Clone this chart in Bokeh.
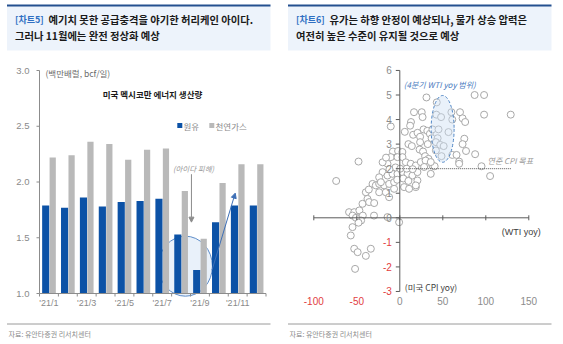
from bokeh.plotting import figure
from bokeh.models import Range1d, Arrow, NormalHead
from bokeh.layouts import row
from bokeh.embed import file_html
from bokeh.resources import INLINE
from bokeh.core.properties import value

# ---------------- data: chart 5 (US Gulf of Mexico energy production) ----------------
months = ["'21/1", "'21/2", "'21/3", "'21/4", "'21/5", "'21/6",
          "'21/7", "'21/8", "'21/9", "'21/10", "'21/11", "'21/12"]
crude_oil = [1.79, 1.77, 1.86, 1.78, 1.82, 1.83, 1.85, 1.53, 1.21, 1.64, 1.79, 1.79]
natural_gas = [2.22, 2.24, 2.36, 2.34, 2.20, 2.29, 2.30, 1.92, 1.49, 1.99, 2.16, 2.16]
left_yticks = [1.0, 1.5, 2.0, 2.5, 3.0]
left_label_months = [1, 3, 5, 7, 9, 11]

# ---------------- data: chart 6 (WTI yoy vs US CPI yoy) ----------------
wti_yoy = [31, 87, 98, 43, 16.5, 25.5, 26.5, 42.5, 48, 60, 70, 61, 73, 76, 98, 129,
           -10.5, 13, 12, 5.8, 15.5, 20.6, 27.6, 32, 35, 38, 45, 56.6, 23.6, 37, 44, 75,
           10, 14, 23.6, 32.5, 42, 47, 51, 73, 23, 27, 42, 77, -8, -2, 3, 61, 66, 87.6,
           48.5, 29.4, 33.4, 69, 69, 38, 40.5, 95, 105, -48, -74,
           -14.3, -10.5, -2.7, 3.1, 7, 12.8, 18.6, 24.4, 30, 36, 28.3, 36,
           -20, -14.3, -8.5, -2.7, 3.1, -24, 9, 14.7, 20.5,
           -5, 0.5, 8, -12, 15,
           -31.7, -27.9, -24, -18.2, -12.4, -6.6,
           5, 10.8, 18.6, 20.5, 18.6,
           -24, -16.3, -12.4, -39.5, -37.6, -43.4, -35.7, -29.8, -36,
           -59, -53, -47, -55, -49, -43, -45, -30, -14.3, -0.8, -55, -57, -51, -48,
           -53, -49, -39.5, -33.7, -52,
           -22, -6.6, -20, -16, -3, 4, 10]
cpi_yoy = [4.9, 5.0, 5.0, 4.7, 4.3, 4.3, 4.1, 4.2, 4.1, 4.3, 4.3, 4.0, 4.05, 3.9, 4.2, 4.2,
           3.72, 3.9, 3.75, 3.5, 3.38, 3.46, 3.6, 3.54, 3.42, 3.6, 3.6, 3.49, 3.3, 3.24, 3.24, 3.22,
           3.0, 2.92, 3.08, 3.0, 3.08, 2.97, 2.92, 3.0, 2.78, 2.7, 2.74, 2.72, 2.7, 2.72, 2.68, 2.56, 2.56, 2.59,
           2.51, 2.51, 2.4, 2.29, 2.2, 2.13, 2.1, 2.1, 1.7, 2.29, 1.5,
           2.2, 2.47, 2.47, 2.47, 2.26, 2.2, 2.13, 2.27, 2.33, 2.27, 2.07, 1.79,
           1.86, 1.72, 1.79, 1.79, 1.86, 1.65, 1.79, 1.72, 1.86,
           2.05, 2.0, 2.0, 1.98, 1.98,
           1.38, 1.32, 1.38, 1.32, 1.38, 1.45,
           1.25, 1.18, 1.25, 1.52, 1.32,
           1.04, 1.04, 0.84, 1.04, 0.77, 0.57, 0.64, 0.6, 1.15,
           0.23, 0.23, 0.3, 0.09, 0.02, 0.09, -0.11, 0.09, 0.03, -0.18, -0.38, -0.72, 0.0, -0.2,
           -1.26, -1.4, -1.55, -1.26, -2.08,
           1.45, 1.18, 2.26, 2.45, 1.55, 1.6, 1.5]
right_xticks = [-100, -50, 0, 50, 100, 150]
right_yticks = [-3, -2, -1, 0, 1, 2, 3, 4, 5, 6]
fed_cpi_target = 2.0
fed_line_end = 130
q4_wti_center, q4_wti_width = 49.8, 26.7
q4_cpi_center, q4_cpi_height = 3.62, 2.72

assert len(wti_yoy) == len(cpi_yoy)

KR = value("Noto Sans CJK KR")
LAT = value("Liberation Sans")
H = 344


def make_fig(w, x0_px, x0_val, xppu, y0_px, y0_val, yppu):
    xr = Range1d(x0_val - x0_px / xppu, x0_val + (w - x0_px) / xppu)
    yr = Range1d(y0_val - (H - y0_px) / yppu, y0_val + y0_px / yppu)
    p = figure(width=w, height=H, x_range=xr, y_range=yr, output_backend="svg",
               toolbar_location=None, min_border=0, x_axis_location=None,
               y_axis_location=None, outline_line_color=None,
               background_fill_color="white", border_fill_color="white")
    p.grid.grid_line_color = None
    p.extra_x_ranges = {"px": Range1d(0, w)}
    p.extra_y_ranges = {"px": Range1d(H, 0)}
    return p


def pxtext(p, x, y, txt, size, color, font=KR, style="normal", align="left"):
    p.text(x=[x], y=[y], text=[txt], text_font=font, text_font_size=size,
           text_color=color, text_font_style=style, text_align=align,
           text_baseline="middle", x_range_name="px", y_range_name="px")


def header_footer(p, tag, line1, line2):
    p.quad(left=[6.5], right=[270], top=[5], bottom=[50], fill_color="#edf3fb",
           line_color=None, x_range_name="px", y_range_name="px")
    p.segment(x0=[6.5], x1=[270], y0=[5], y1=[5], line_color="#24508f", line_width=2,
              x_range_name="px", y_range_name="px")
    pxtext(p, 14.5, 18.5, tag, "9px", "#2f6fc2", style="bold")
    pxtext(p, 48, 18.5, line1, "10.3px", "#1a1a1a", style="bold")
    pxtext(p, 14.5, 35, line2, "10.3px", "#1a1a1a", style="bold")
    p.segment(x0=[6.5], x1=[270], y0=[323.5], y1=[323.5], line_color="#9a9a9a",
              line_width=1, x_range_name="px", y_range_name="px")
    pxtext(p, 8, 333, "자료: 유안타증권 리서치센터", "7px", "#8a8a8a")


# ================= left chart =================
LXP, LYP = 18.875, 111.5
p1 = make_fig(281, 39, 0.5, LXP, 293, 1.0, LYP)
header_footer(p1, "[차트5]", "예기치 못한 공급충격을 야기한 허리케인 아이다.",
              "그러나 11월에는 완전 정상화 예상")

n = len(months)
idx = list(range(1, n + 1))

# Hurricane Ida highlight (behind the bars)
p1.ellipse(x=[8.23], y=[1.245], width=[54 / LXP], height=[60 / LYP],
           fill_color="#dbe8f6", fill_alpha=0.6, line_color="#5d8cc8", line_width=1)

p1.vbar(x=[i - 0.17 for i in idx], width=0.38, top=crude_oil, bottom=left_yticks[0],
        fill_color="#0c52a6", line_color=None)
p1.vbar(x=[i + 0.2 for i in idx], width=0.33, top=natural_gas, bottom=left_yticks[0],
        fill_color="#b9b9b9", line_color=None)

p1.add_layout(Arrow(end=NormalHead(size=5, fill_color="#8c8c8c", line_color="#8c8c8c"),
                    x_start=8.55, y_start=2.07, x_end=8.55, y_end=1.64,
                    line_color="#8c8c8c", line_width=1))
p1.text(x=[8.66], y=[2.125], text=["(아이다 피해)"], text_font=KR, text_font_size="7.5px",
        text_font_style="italic", text_color="#9a9a9a", text_align="center",
        text_baseline="middle")
p1.add_layout(Arrow(end=NormalHead(size=5, fill_color="#3d6fb6", line_color="#3d6fb6"),
                    x_start=9.64, y_start=1.21, x_end=10.87, y_end=1.90,
                    line_color="#3d6fb6", line_width=1))

# axes
ax_col = "#8c8c8c"
p1.segment(x0=[0.5], x1=[0.5], y0=[left_yticks[0]], y1=[left_yticks[-1]], line_color=ax_col)
p1.segment(x0=[0.5], x1=[n + 0.5], y0=[left_yticks[0]], y1=[left_yticks[0]], line_color=ax_col)
p1.segment(x0=[0.5] * len(left_yticks), x1=[0.5 - 3 / LXP] * len(left_yticks),
           y0=left_yticks, y1=left_yticks, line_color=ax_col)
bnds = [i + 0.5 for i in range(n + 1)]
p1.segment(x0=bnds, x1=bnds, y0=[left_yticks[0]] * len(bnds),
           y1=[left_yticks[0] - 3 / LYP] * len(bnds), line_color=ax_col)
p1.text(x=[0.5] * len(left_yticks), y=left_yticks, text=[f"{t:.1f}" for t in left_yticks],
        x_offset=-10, text_align="right", text_baseline="middle", text_font=LAT,
        text_font_size="9.5px", text_color="#8a8a8a")
p1.text(x=left_label_months, y=[left_yticks[0]] * len(left_label_months),
        text=[months[m - 1] for m in left_label_months], y_offset=9,
        text_align="center", text_baseline="middle", text_font=LAT,
        text_font_size="9px", text_color="#8a8a8a")

pxtext(p1, 45, 72, "(백만배럴, bcf/일)", "8.5px", "#6a6a6a")
pxtext(p1, 152, 93, "미국 멕시코만 에너지 생산량", "8.5px", "#1a1a1a", style="bold", align="center")
p1.scatter(x=[179.3, 211.3], y=[125, 125], marker="square", size=5,
           fill_color=["#0c52a6", "#b9b9b9"], line_color=None,
           x_range_name="px", y_range_name="px")
pxtext(p1, 183, 125, "원유", "8.5px", "#8a8a8a")
pxtext(p1, 215, 125, "천연가스", "8.5px", "#8a8a8a")

# ================= right chart =================
RXP, RYP = 0.86, 24.56
p2 = make_fig(282, 118.3, 0.0, RXP, 217.3, 0.0, RYP)
header_footer(p2, "[차트6]", "유가는 하향 안정이 예상되나, 물가 상승 압력은",
              "여전히 높은 수준이 유지될 것으로 예상")

p2.scatter(x=wti_yoy, y=cpi_yoy, size=7, fill_color="white", line_color="#a8a8a8",
           line_width=1)
p2.ellipse(x=[q4_wti_center], y=[q4_cpi_center], width=[q4_wti_width], height=[q4_cpi_height],
           fill_color="#cfe1f5", fill_alpha=0.45, line_color="#4f86c6", line_dash="3 2",
           line_width=1)
p2.segment(x0=[0], x1=[fed_line_end], y0=[fed_cpi_target], y1=[fed_cpi_target],
           line_color="#555555", line_dash="1 1", line_width=1)

rc = "#5a5a5a"
p2.segment(x0=[0], x1=[0], y0=[right_yticks[0]], y1=[right_yticks[-1]], line_color=rc)
p2.segment(x0=[right_xticks[0]], x1=[right_xticks[-1]], y0=[0], y1=[0], line_color=rc)
p2.segment(x0=[0] * len(right_yticks), x1=[-4 / RXP] * len(right_yticks),
           y0=right_yticks, y1=right_yticks, line_color=rc)
p2.segment(x0=right_xticks, x1=right_xticks, y0=[2.5 / RYP] * len(right_xticks),
           y1=[-2.5 / RYP] * len(right_xticks), line_color=rc)
red, gray = "#e2403f", "#8c8c8c"
p2.text(x=[0] * len(right_yticks), y=right_yticks, text=[str(t) for t in right_yticks],
        x_offset=-8, text_align="right", text_baseline="middle", text_font=LAT,
        text_font_size="10px", text_color=[red if t < 0 else gray for t in right_yticks])
p2.text(x=right_xticks, y=[right_yticks[0]] * len(right_xticks),
        text=[str(t) for t in right_xticks], y_offset=10, text_align="center",
        text_baseline="middle", text_font=LAT, text_font_size="10px",
        text_color=[red if t < 0 else gray for t in right_xticks])

p2.text(x=[right_xticks[-1]], y=[0], text=["(WTI yoy)"], x_offset=12, y_offset=14,
        text_align="right", text_baseline="middle", text_font=LAT, text_font_size="9px",
        text_color="#404040")
p2.text(x=[0], y=[right_yticks[0]], text=["(미국 CPI yoy)"], x_offset=5, y_offset=-4,
        text_align="left", text_baseline="middle", text_font=KR, text_font_size="8.5px",
        text_color="#404040")
p2.text(x=[102], y=[fed_cpi_target], text=["연준 CPI 목표"], y_offset=-8,
        text_align="left", text_baseline="middle", text_font=KR, text_font_size="8px",
        text_font_style="italic", text_color="#9a9a9a")
p2.text(x=[4.7], y=[5.42], text=["(4분기 WTI yoy 범위)"], text_align="left",
        text_baseline="middle", text_font=KR, text_font_size="8px",
        text_font_style="italic", text_color="#4a7bc0")

layout = row(p1, p2, spacing=0)
open("out.html", "w").write(file_html(layout, INLINE))
